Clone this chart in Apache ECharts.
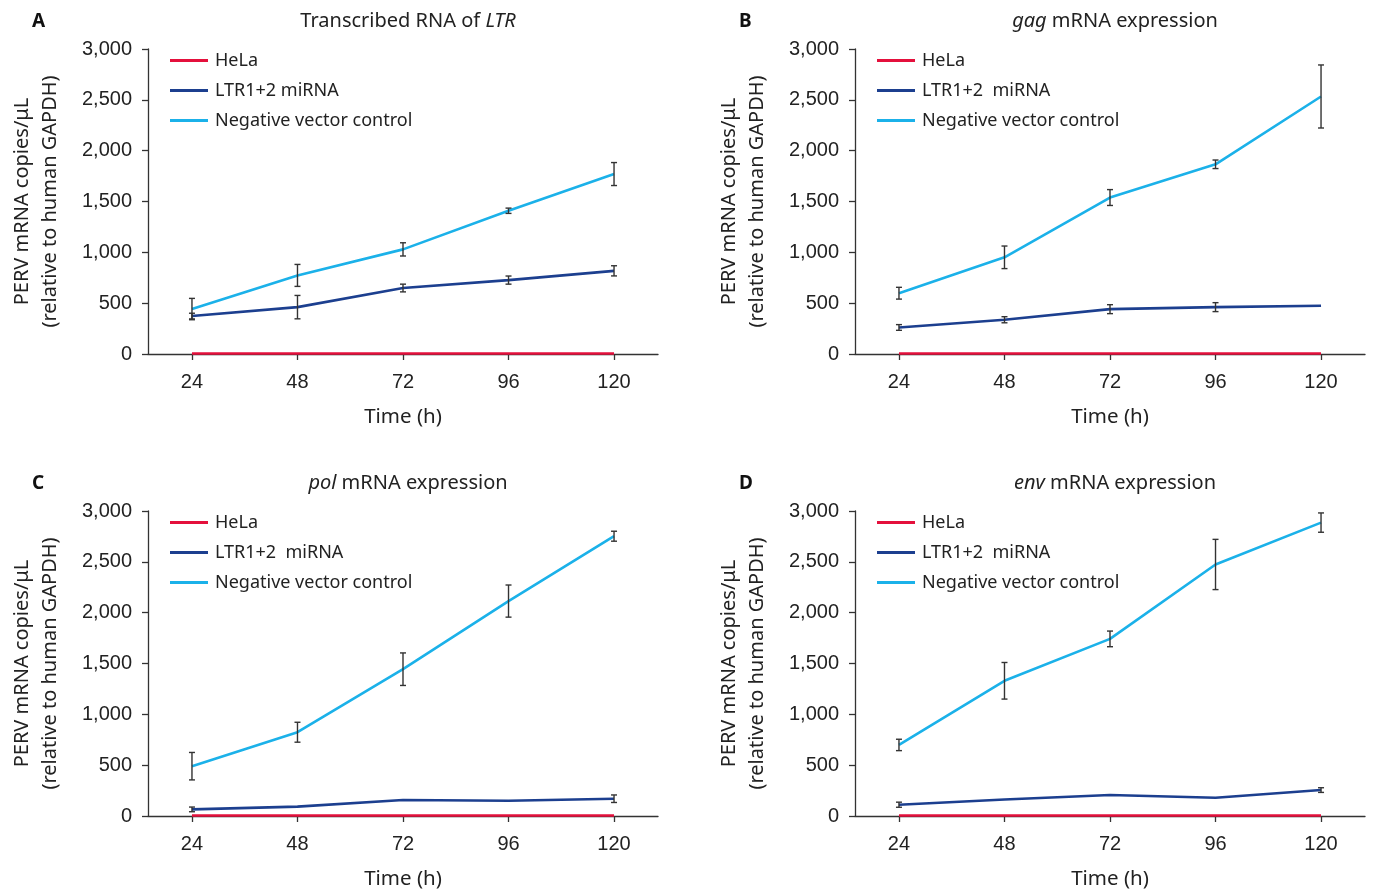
<!DOCTYPE html>
<html><head><meta charset="utf-8">
<script src="https://cdn.jsdelivr.net/npm/echarts@6/dist/echarts.min.js"></script>
<style>html,body{margin:0;padding:0;background:#fff}#c{width:1375px;height:893px}</style>
</head><body><div id="c"></div>
<script>
// ---- data ----
const hours = [24, 48, 72, 96, 120];
const seriesNames = ['HeLa', 'LTR1+2 miRNA', 'Negative vector control'];
const seriesNamesAlt = ['HeLa', 'LTR1+2  miRNA', 'Negative vector control'];
const panelLetters = ['A', 'B', 'C', 'D'];
const panelTitlePlain = ['Transcribed RNA of ', ' mRNA expression', ' mRNA expression', ' mRNA expression'];
const panelTitleItalic = ['LTR', 'gag', 'pol', 'env'];

const helaA = [5, 5, 5, 5, 5];
const ltrA = [373, 461, 649, 727, 818];
const ltrAErr = [28, 115, 38, 40, 50];
const negA = [442, 773, 1029, 1409, 1770];
const negAErr = [105, 108, 65, 26, 113];

const helaB = [5, 5, 5, 5, 5];
const ltrB = [261, 337, 441, 461, 474];
const ltrBErr = [28, 30, 44, 44, 0];
const negB = [598, 951, 1539, 1866, 2533];
const negBErr = [58, 111, 78, 42, 310];

const helaC = [5, 5, 5, 5, 5];
const ltrC = [65, 92, 157, 150, 170];
const ltrCErr = [23, 0, 0, 0, 37];
const negC = [490, 824, 1444, 2114, 2752];
const negCErr = [135, 98, 160, 158, 49];

const helaD = [5, 5, 5, 5, 5];
const ltrD = [111, 163, 206, 180, 255];
const ltrDErr = [25, 0, 0, 0, 23];
const negD = [699, 1330, 1742, 2474, 2886];
const negDErr = [56, 180, 77, 247, 95];

// ---- layout ----
const panels = [
  {hela: helaA, ltr: ltrA, ltrErr: ltrAErr, neg: negA, negErr: negAErr, left: 148, top: 49, names: seriesNames},
  {hela: helaB, ltr: ltrB, ltrErr: ltrBErr, neg: negB, negErr: negBErr, left: 855, top: 49, names: seriesNamesAlt},
  {hela: helaC, ltr: ltrC, ltrErr: ltrCErr, neg: negC, negErr: negCErr, left: 148, top: 511, names: seriesNamesAlt},
  {hela: helaD, ltr: ltrD, ltrErr: ltrDErr, neg: negD, negErr: negDErr, left: 855, top: 511, names: seriesNamesAlt}
];
const W = 510, H = 305;
const colors = ['#e4103c', '#1c3f8f', '#1bb1e9'];
const FONT = 'Noto Sans';
const TICKFONT = 'Liberation Sans';

const chart = echarts.init(document.getElementById('c'), null, {renderer: 'canvas'});

const grid = [], xAxis = [], yAxis = [], series = [], legend = [], title = [];

function errRender(params, api) {
  const x = api.value(0), lo = api.value(1), hi = api.value(2);
  const p1 = api.coord([x, lo]), p2 = api.coord([x, hi]);
  const cw = 3;
  const st = {stroke: '#333', lineWidth: 1.4};
  return {type: 'group', children: [
    {type: 'line', shape: {x1: p1[0], y1: p1[1], x2: p2[0], y2: p2[1]}, style: st},
    {type: 'line', shape: {x1: p1[0] - cw, y1: p1[1], x2: p1[0] + cw, y2: p1[1]}, style: st},
    {type: 'line', shape: {x1: p2[0] - cw, y1: p2[1], x2: p2[0] + cw, y2: p2[1]}, style: st}
  ]};
}

panels.forEach((p, i) => {
  grid.push({left: p.left, top: p.top, width: W, height: H, containLabel: false});
  xAxis.push({
    type: 'value', gridIndex: i, min: 14, max: 130,
    axisLine: {lineStyle: {color: '#333', width: 1.3}},
    axisTick: {show: true, length: 6, customValues: hours, lineStyle: {color: '#333', width: 1.3}},
    axisLabel: {customValues: hours, margin: 18, fontSize: 20, color: '#222', fontFamily: TICKFONT},
    splitLine: {show: false},
    name: 'Time (h)', nameLocation: 'middle', nameGap: 53,
    nameTextStyle: {fontSize: 20.5, color: '#222', fontFamily: FONT}
  });
  yAxis.push({
    type: 'value', gridIndex: i, min: 0, max: 3000, interval: 500,
    axisLine: {show: true, lineStyle: {color: '#333', width: 1.3}},
    axisTick: {show: true, length: 6, lineStyle: {color: '#333', width: 1.3}},
    axisLabel: {margin: 16, fontSize: 20, color: '#222', fontFamily: TICKFONT,
      formatter: v => v.toLocaleString('en-US')},
    splitLine: {show: false},
    name: 'PERV mRNA copies/μL\n(relative to human GAPDH)', nameLocation: 'middle', nameGap: 84, nameRotate: 90,
    nameTextStyle: {fontSize: 20, color: '#222', fontFamily: FONT, lineHeight: 28}
  });
  const vals = [p.hela, p.ltr, p.neg];
  vals.forEach((arr, k) => {
    series.push({
      type: 'line', name: p.names[k], xAxisIndex: i, yAxisIndex: i,
      data: hours.map((h, j) => [h, arr[j]]),
      symbol: 'none', color: colors[k],
      lineStyle: {width: 2.6, color: colors[k]}, z: 2 + k, animation: false
    });
  });
  [[p.ltr, p.ltrErr], [p.neg, p.negErr]].forEach(([v, e]) => {
    series.push({
      type: 'custom', xAxisIndex: i, yAxisIndex: i, renderItem: errRender, z: 10, animation: false,
      silent: true,
      data: hours.map((h, j) => [h, v[j] - e[j], v[j] + e[j]]).filter((d, j) => e[j] > 0)
    });
  });
  legend.push({
    orient: 'vertical', left: p.left + 17, top: p.top - 3, itemWidth: 38, itemHeight: 3, itemGap: 11,
    icon: 'rect', padding: 5,
    data: p.names, textStyle: {fontSize: 18, color: '#222', fontFamily: FONT, padding: [0, 0, 0, 2], lineHeight: 19},
    selectedMode: false
  });
  title.push({
    text: '{r|' + (i === 0 ? panelTitlePlain[i] : '') + '}' + '{it|' + panelTitleItalic[i] + '}' + '{r|' + (i === 0 ? '' : panelTitlePlain[i]) + '}',
    left: p.left + 255, top: p.top - 43, textAlign: 'center',
    textStyle: {fontWeight: 'normal', rich: {
      r: {fontSize: 20, color: '#222', fontFamily: FONT, fontWeight: 'normal'},
      it: {fontSize: 20, color: '#222', fontFamily: FONT, fontStyle: 'italic', fontWeight: 'normal'}
    }}
  });
  title.push({
    text: panelLetters[i], left: p.left - 121, top: p.top - 42,
    textStyle: {fontSize: 19, fontWeight: 'bold', color: '#111', fontFamily: FONT}
  });
});

chart.setOption({animation: false, backgroundColor: '#fff', grid, xAxis, yAxis, series, legend, title});
</script></body></html>
